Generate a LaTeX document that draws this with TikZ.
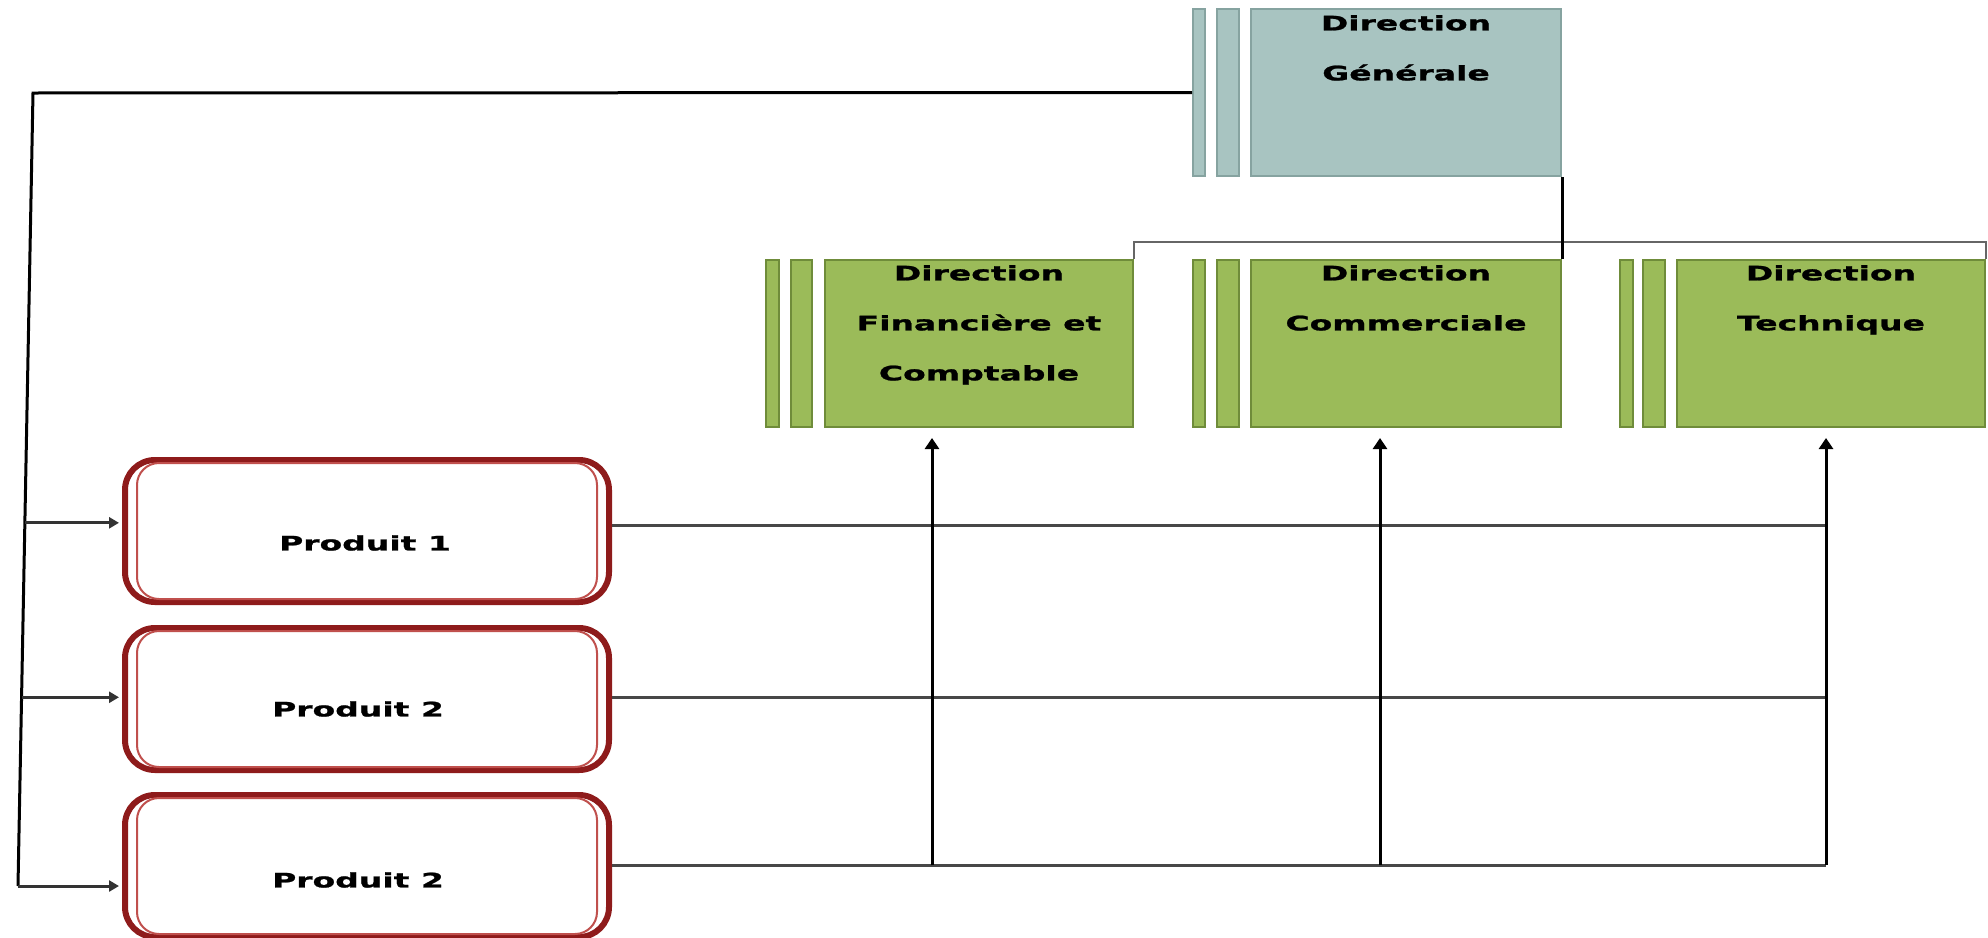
\documentclass[tikz,border=0pt]{standalone}
\usepackage{fontspec}
\newfontfamily\lblfont{DejaVu Sans}[FakeStretch=1.65,FakeBold=1.2]
\usetikzlibrary{arrows.meta,calc,positioning}
\definecolor{tealfill}{HTML}{A8C4C1}
\definecolor{tealline}{HTML}{86A3A0}
\definecolor{greenfill}{HTML}{9BBB59}
\definecolor{greenline}{HTML}{6F8C3A}
\definecolor{prodout}{HTML}{8E1B1B}
\definecolor{prodin}{HTML}{C0504D}
\tikzset{
  tealbox/.style={draw=tealline, line width=2pt, fill=tealfill, inner sep=0pt, anchor=north west, minimum height=167pt},
  greenbox/.style={draw=greenline, line width=2pt, fill=greenfill, inner sep=0pt, anchor=north west, minimum height=167pt},
  prodbox/.style={draw=prodout, line width=6pt, fill=white, rounded corners=30pt, inner sep=0pt, anchor=north west, minimum width=484pt, minimum height=142pt},
  prodinner/.style={draw=prodin, line width=2pt, rounded corners=22pt},
  lbl/.style={font=\lblfont\bfseries\fontsize{20}{50}\selectfont, align=center, inner sep=0pt, text=black},
  trunk/.style={draw=black, line width=3pt},
  bus/.style={draw=black!60, line width=2pt},
  hline/.style={draw=black!72, line width=3pt},
  uparr/.style={draw=black, line width=3pt, -{Triangle[width=14pt,length=11pt]}, shorten >=10pt},
  leftarr/.style={draw=black!80, line width=3pt, -{Triangle[width=11pt,length=10pt]}, shorten >=3pt},
}
\begin{document}
\begin{tikzpicture}[x=1pt,y=-1pt]
\useasboundingbox (0,0) rectangle (1988,937);
% Direction Generale
\node[tealbox, minimum width=12pt] (dgs1) at (1192,8) {};
\node[tealbox, minimum width=22pt] (dgs2) at (1216,8) {};
\node[tealbox, minimum width=310pt] (dg) at (1250,8) {};
\node[lbl, below=7pt] (dgt) at (dg.north) {Direction\\Générale};
% Financiere
\node[greenbox, minimum width=13pt] (fins1) at (765,259) {};
\node[greenbox, minimum width=21pt] (fins2) at (790,259) {};
\node[greenbox, minimum width=308pt] (fin) at (824,259) {};
\node[lbl, below=6pt] (fint) at (fin.north) {Direction\\Financière et\\Comptable};
% Commerciale
\node[greenbox, minimum width=12pt] (coms1) at (1192,259) {};
\node[greenbox, minimum width=22pt] (coms2) at (1216,259) {};
\node[greenbox, minimum width=310pt] (com) at (1250,259) {};
\node[lbl, below=6pt] (comt) at (com.north) {Direction\\Commerciale};
% Technique
\node[greenbox, minimum width=13pt] (tecs1) at (1619,259) {};
\node[greenbox, minimum width=22pt] (tecs2) at (1642,259) {};
\node[greenbox, minimum width=308pt] (tec) at (1676,259) {};
\node[lbl, below=6pt] (tect) at (tec.north) {Direction\\Technique};
% Produits
\node[prodbox] (p1) at (122,457) {};
\node[prodbox] (p2) at (122,625) {};
\node[prodbox] (p3) at (122,792) {};
\foreach \p in {p1,p2,p3}{
  \draw[prodinner] ([xshift=15pt,yshift=-6pt]\p.north west) rectangle ([xshift=-15pt,yshift=6pt]\p.south east);
}
\node[lbl] (p1t) at ([xshift=-2pt,yshift=-12pt]p1.center) {Produit 1};
\node[lbl] (p2t) at ([xshift=-9pt,yshift=-10pt]p2.center) {Produit 2};
\node[lbl] (p3t) at ([xshift=-9pt,yshift=-14pt]p3.center) {Produit 2};
% hierarchy connectors
\coordinate (busl) at (fin.north east |- 0,242);
\coordinate (busr) at (tec.north east |- 0,242);
\draw[bus] (fin.north east) -- (busl) -- (busr) -- (tec.north east);
\draw[trunk] (dg.south east) -- (com.north east);
% left connector
\coordinate (lt) at (33,93);
\coordinate (lb) at (18,886);
\draw[trunk] (dgs1.west) -- (lt) -- (lb);
\coordinate (a1) at ($(lt)!0.542!(lb)$);
\coordinate (a2) at ($(lt)!0.762!(lb)$);
\draw[leftarr] (a1) -- (a1 -| p1.west);
\draw[leftarr] (a2) -- (a2 -| p2.west);
\draw[leftarr] (lb) -- (lb -| p3.west);
% product lines
\coordinate (rx) at (1826,0);
\coordinate (j1) at ([yshift=1pt]p3.east -| 932,0);
\coordinate (j2) at ([yshift=1pt]p3.east -| 1380,0);
\coordinate (j3) at ([yshift=1pt]p3.east -| rx);
\draw[hline] ([yshift=6pt]p1.east) -- ([yshift=6pt]p1.east -| rx);
\draw[hline] ([yshift=2pt]p2.east) -- ([yshift=2pt]p2.east -| rx);
\draw[hline] ([yshift=1pt]p3.east) -- (j3);
% up arrows
\draw[uparr] (j1) -- (j1 |- fin.south);
\draw[uparr] (j2) -- (j2 |- com.south);
\draw[uparr] (j3) -- (j3 |- tec.south);
\end{tikzpicture}
\end{document}
